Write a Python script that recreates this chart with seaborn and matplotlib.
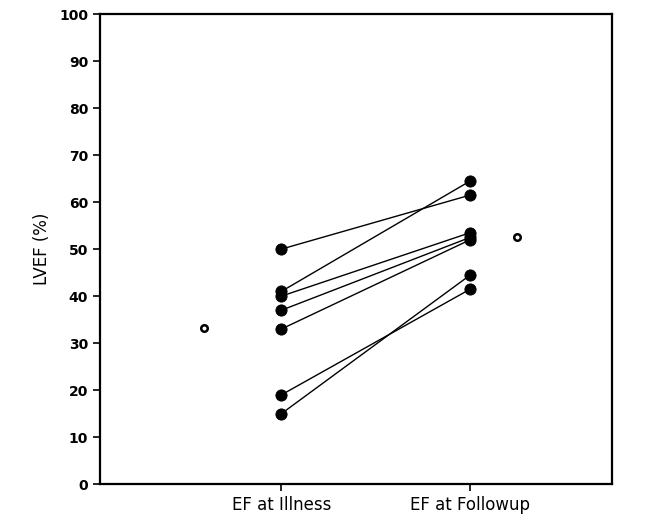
import numpy as np
import pandas as pd
import matplotlib
matplotlib.use("Agg")
import matplotlib.pyplot as plt
import seaborn as sns

## data
groups = ["EF at Illness", "EF at Followup"]
ef_illness = [50, 41, 40, 37, 33, 19, 15]
ef_followup = [61.5, 64.5, 53.5, 52.5, 52, 41.5, 44.5]
mean_illness = 33.3
mean_followup = 52.6
yticks = [0, 10, 20, 30, 40, 50, 60, 70, 80, 90, 100]

# long form table, one row per patient and visit
n = len(ef_illness)
dtf = pd.DataFrame({
    "patient": list(range(n)) * 2,
    "x": [1] * n + [2] * n,
    "LVEF": ef_illness + ef_followup,
})
dtf_mean = pd.DataFrame({"x": [0.59, 2.25],
                         "LVEF": [mean_illness, mean_followup]})

sns.set_style("ticks")
plt.rcParams["font.family"] = ["DejaVu Sans"]
plt.rcParams["text.color"] = "black"
plt.rcParams["axes.labelcolor"] = "black"
plt.rcParams["xtick.color"] = "black"
plt.rcParams["ytick.color"] = "black"

fig = plt.figure(figsize=(6.71, 5.19), dpi=100)
ax = fig.add_axes([0.149, 0.067, 0.763, 0.906])

sns.lineplot(data=dtf, x="x", y="LVEF", units="patient", estimator=None,
             color="black", linewidth=1.0, ax=ax, legend=False)
sns.scatterplot(data=dtf, x="x", y="LVEF", color="black", s=65,
                edgecolor="black", ax=ax, legend=False, zorder=3)
sns.scatterplot(data=dtf_mean, x="x", y="LVEF", facecolor="white",
                edgecolor="black", linewidth=1.8, s=22, ax=ax,
                legend=False, zorder=3)

ax.set_xlim(0.04, 2.75)
ax.set_ylim(0, 100)
ax.set_xticks([1, 2])
ax.set_xticklabels(groups, fontsize=12, color="black")
ax.set_yticks(yticks)
ax.set_yticklabels([str(t) for t in yticks], fontsize=10,
                   fontweight="bold", color="black")
ax.set_xlabel("")
ax.set_ylabel("LVEF (%)", fontsize=12, labelpad=6, color="black")
ax.tick_params(direction="out", length=5, width=1.2, colors="black")
for sp in ax.spines.values():
    sp.set_linewidth(1.6)
    sp.set_color("black")

fig.savefig("out.png", dpi=100)
